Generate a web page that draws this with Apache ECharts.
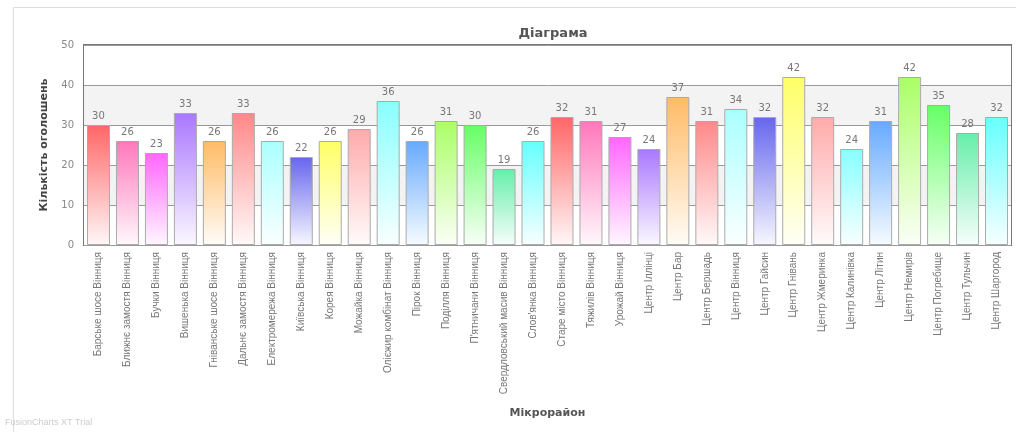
<!DOCTYPE html>
<html>
<head>
<meta charset="utf-8">
<script src="https://cdn.jsdelivr.net/npm/echarts@6/dist/echarts.min.js"></script>
<style>
html,body{margin:0;padding:0;background:#fff;}
#c{width:1016px;height:432px;}
</style>
</head>
<body>
<div id="c"></div>
<script>
var categories = [
  'Барське шосе Вінниця','Ближнє замостя Вінниця','Бучки Вінниця','Вишенька Вінниця',
  'Гніванське шосе Вінниця','Дальнє замостя Вінниця','Електромережа Вінниця','Київська Вінниця',
  'Корея Вінниця','Можайка Вінниця','Олієжир комбінат Вінниця','Пірок Вінниця',
  'Поділля Вінниця','П\'ятничани Вінниця','Свердловський масив Вінниця','Слов\'янка Вінниця',
  'Старе місто Вінниця','Тяжилів Вінниця','Урожай Вінниця','Центр Іллінці',
  'Центр Бар','Центр Бершадь','Центр Вінниця','Центр Гайсин',
  'Центр Гнівань','Центр Жмеринка','Центр Калинівка','Центр Літин',
  'Центр Немирів','Центр Погребище','Центр Тульчин','Центр Шаргород'
];
var values = [30,26,23,33,26,33,26,22,26,29,36,26,31,30,19,26,32,31,27,24,37,31,34,32,42,32,24,31,42,35,28,32];
var palette = ['#FF6666','#FF77BB','#FF66FF','#AA77FF','#FFBB66','#FF8888','#AAFFFF','#6666EE',
               '#FFFF66','#FFAAAA','#88FFFF','#66AAFF','#AAFF66','#66FF66','#66EEAA','#66FFFF'];
var yTicks = [0,10,20,30,40,50];

function tint(hex, t){
  var r=parseInt(hex.substr(1,2),16),g=parseInt(hex.substr(3,2),16),b=parseInt(hex.substr(5,2),16);
  r=Math.round(r+(255-r)*t);g=Math.round(g+(255-g)*t);b=Math.round(b+(255-b)*t);
  return 'rgb('+r+','+g+','+b+')';
}

var data = values.map(function(v,i){
  var c = palette[i % palette.length];
  return {value:v,itemStyle:{color:new echarts.graphic.LinearGradient(0,0,0,1,[
    {offset:0,color:c},{offset:1,color:tint(c,0.95)}])}};
});

var chart = echarts.init(document.getElementById('c'));
chart.setOption({
  animation:false,
  title:{text:'Діаграма',left:548,textAlign:'center',top:22,
    textStyle:{fontFamily:'DejaVu Sans',fontSize:13,fontWeight:'bold',color:'#555'}},
  graphic:[
    {type:'rect',shape:{x:13.5,y:7.5,width:1010,height:430},style:{fill:'none',stroke:'#dddddd',lineWidth:1},silent:true},
    {type:'text',left:5,top:418,style:{text:'FusionCharts XT Trial',fill:'#cccccc',fontSize:9,fontFamily:'Liberation Sans'}}
  ],
  grid:{left:84,right:5,top:45,bottom:187,show:true,borderColor:'#777',borderWidth:2,backgroundColor:'transparent'},
  xAxis:{type:'category',data:categories,
    name:'Мікрорайон',nameLocation:'middle',nameGap:163,
    nameTextStyle:{fontFamily:'DejaVu Sans',fontSize:11,fontWeight:'bold',color:'#555'},
    axisLine:{show:false},axisTick:{show:false},
    axisLabel:{rotate:90,interval:0,fontSize:10,color:'#777',margin:7,fontFamily:'Liberation Sans'}},
  yAxis:{type:'value',min:yTicks[0],max:yTicks[yTicks.length-1],interval:10,
    name:'Кількість оголошень',nameLocation:'middle',nameGap:34,nameRotate:90,
    nameTextStyle:{fontFamily:'DejaVu Sans',fontSize:11,fontWeight:'bold',color:'#444'},
    axisLine:{show:false},axisTick:{show:false},
    axisLabel:{fontSize:10,color:'#888',margin:10,fontFamily:'DejaVu Sans'},
    splitLine:{lineStyle:{color:'#999',width:1}},
    splitArea:{show:true,areaStyle:{color:['#ffffff','#f3f3f3']}}},
  series:[{type:'bar',data:data,barWidth:23,
    itemStyle:{borderColor:'#aaaaaa',borderWidth:1},
    label:{show:true,position:'top',color:'#777',fontSize:10,fontFamily:'DejaVu Sans',distance:4}}]
});
</script>
</body>
</html>
